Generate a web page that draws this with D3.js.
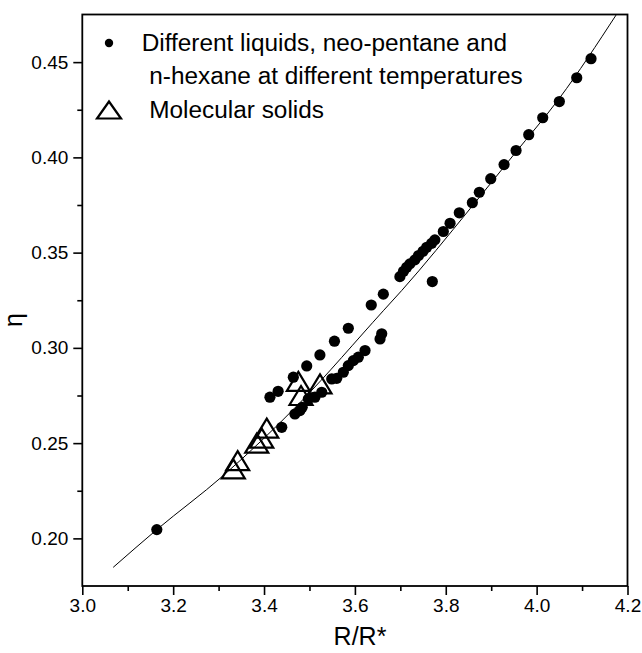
<!DOCTYPE html>
<html>
<head>
<meta charset="utf-8">
<script src="https://cdnjs.cloudflare.com/ajax/libs/d3/7.8.5/d3.min.js"></script>
<style>
  body { margin: 0; background: #fff; }
  svg { display: block; }
  text { font-family: "Liberation Sans", Arial, Helvetica, sans-serif; fill: #000; }
</style>
</head>
<body>
<svg width="642" height="653"></svg>
<script>
// liquids (filled circles)
var liquidR = [3.164, 3.413, 3.431, 3.439, 3.4645, 3.468, 3.479, 3.484, 3.494, 3.4975,
  3.512, 3.523, 3.527, 3.549, 3.555, 3.560, 3.5745, 3.5855, 3.5855, 3.5965,
  3.6075, 3.6223, 3.636, 3.6553, 3.659, 3.6626, 3.699, 3.707, 3.714, 3.721,
  3.732, 3.740, 3.750, 3.758, 3.769, 3.776, 3.7704, 3.7946, 3.8094, 3.8298,
  3.8585, 3.8739, 3.899, 3.9283, 3.9547, 3.9826, 4.0134, 4.050, 4.0883, 4.1197];
var liquidEta = [0.2046, 0.2741, 0.2772, 0.2583, 0.2846, 0.2653, 0.2671, 0.2688, 0.2905, 0.2732,
  0.2741, 0.2963, 0.2767, 0.2837, 0.3035, 0.2840, 0.2872, 0.2907, 0.3103, 0.2933,
  0.2951, 0.2986, 0.3225, 0.3047, 0.3074, 0.3282, 0.3374, 0.3402, 0.3423, 0.3441,
  0.3462, 0.3485, 0.3507, 0.3528, 0.3549, 0.3567, 0.3348, 0.3611, 0.3654, 0.3709,
  0.3762, 0.3817, 0.3888, 0.3962, 0.4036, 0.4119, 0.4208, 0.4293, 0.4418, 0.4518];

// molecular solids (open triangles)
var solidR = [3.3324, 3.342, 3.384, 3.395, 3.406, 3.4755, 3.4814, 3.5232];
var solidEta = [0.2365, 0.2408, 0.2500, 0.2526, 0.2579, 0.2824, 0.2750, 0.2811];

// fitted curve
var fitR = [3.068, 3.164, 3.31, 3.479, 3.6626, 3.703, 3.8534, 3.95, 4.05, 4.1748];
var fitEta = [0.1848, 0.2046, 0.2329, 0.2712, 0.3195, 0.3301, 0.373, 0.4015, 0.431, 0.4747];

var xTicks = [3.0, 3.2, 3.4, 3.6, 3.8, 4.0, 4.2];
var xMinor = [3.1, 3.3, 3.5, 3.7, 3.9, 4.1];
var yTicks = [0.20, 0.25, 0.30, 0.35, 0.40, 0.45];
var yMinor = [0.225, 0.275, 0.325, 0.375, 0.425];

var legendLabels = ["Different liquids, neo-pentane and", " n-hexane at different temperatures", " Molecular solids"];

var svg = d3.select("svg");
var pLeft = 82.3, pRight = 627.5, pTop = 14.5, pBottom = 586;

var x = d3.scaleLinear().domain([3.0, 4.2]).range([pLeft, pRight]);
var y = d3.scaleLinear().domain([0.175, 0.475]).range([pBottom, pTop]);

svg.append("defs").append("clipPath").attr("id", "plot")
  .append("rect").attr("x", pLeft).attr("y", pTop)
  .attr("width", pRight - pLeft).attr("height", pBottom - pTop);

// axes: major ticks with labels, minor ticks without
svg.append("g").attr("transform", "translate(0," + pBottom + ")")
  .call(d3.axisBottom(x).tickValues(xTicks).tickFormat(d3.format(".1f")).tickSize(9).tickPadding(4));
svg.append("g").attr("transform", "translate(0," + pBottom + ")")
  .call(d3.axisBottom(x).tickValues(xMinor).tickFormat("").tickSize(5));
svg.append("g").attr("transform", "translate(" + pLeft + ",0)")
  .call(d3.axisLeft(y).tickValues(yTicks).tickFormat(d3.format(".2f")).tickSize(9).tickPadding(5));
svg.append("g").attr("transform", "translate(" + pLeft + ",0)")
  .call(d3.axisLeft(y).tickValues(yMinor).tickFormat("").tickSize(5));

svg.selectAll(".domain").remove();
svg.selectAll(".tick line").attr("stroke", "#000").attr("stroke-width", 1.6);
svg.selectAll(".tick text")
  .attr("font-size", null).attr("font-family", null)
  .style("font-size", "19px").attr("fill", "#000");

// frame
svg.append("rect").attr("x", pLeft).attr("y", pTop)
  .attr("width", pRight - pLeft).attr("height", pBottom - pTop)
  .attr("fill", "none").attr("stroke", "#000").attr("stroke-width", 1.8);

// fit curve
var fit = fitR.map(function(d, i) { return [d, fitEta[i]]; });
svg.append("path").datum(fit)
  .attr("clip-path", "url(#plot)")
  .attr("fill", "none").attr("stroke", "#000").attr("stroke-width", 1)
  .attr("d", d3.line().curve(d3.curveMonotoneX)
    .x(function(d) { return x(d[0]); })
    .y(function(d) { return y(d[1]); }));

// triangle centred on its box
function tri(cx, cy, w, h) {
  return "M" + cx + "," + (cy - h / 2) + "L" + (cx + w / 2) + "," + (cy + h / 2) +
    "L" + (cx - w / 2) + "," + (cy + h / 2) + "Z";
}

svg.append("g").selectAll("circle")
  .data(liquidR)
  .enter().append("circle")
  .attr("cx", function(d) { return x(d); })
  .attr("cy", function(d, i) { return y(liquidEta[i]); })
  .attr("r", 5.6)
  .attr("fill", "#000");

svg.append("g").selectAll("path")
  .data(solidR)
  .enter().append("path")
  .attr("d", function(d, i) { return tri(x(d), y(solidEta[i]), 23, 19); })
  .attr("fill", "none")
  .attr("stroke", "#000").attr("stroke-width", 2.2);

// legend
var lg = svg.append("g");
lg.append("circle").attr("cx", 109).attr("cy", 43).attr("r", 4.2).attr("fill", "#000");
lg.append("path").attr("d", tri(109, 110, 24, 17))
  .attr("fill", "none").attr("stroke", "#000").attr("stroke-width", 2.2);
lg.selectAll("text")
  .data(legendLabels)
  .enter().append("text")
  .attr("transform", function(d, i) {
    var px = [141.7, 142.5, 142.5][i], py = [50.7, 84, 117.7][i];
    return "translate(" + px + "," + py + ") scale(1.06,1)";
  })
  .style("white-space", "pre")
  .style("font-size", "23px")
  .text(function(d) { return d; });

// axis titles
svg.append("text").attr("x", 360).attr("y", 645)
  .attr("text-anchor", "middle").style("font-size", "25px").text("R/R*");
svg.append("text").attr("transform", "translate(22,320) rotate(-90)")
  .attr("text-anchor", "middle").style("font-size", "25px").text("η");
</script>
</body>
</html>
